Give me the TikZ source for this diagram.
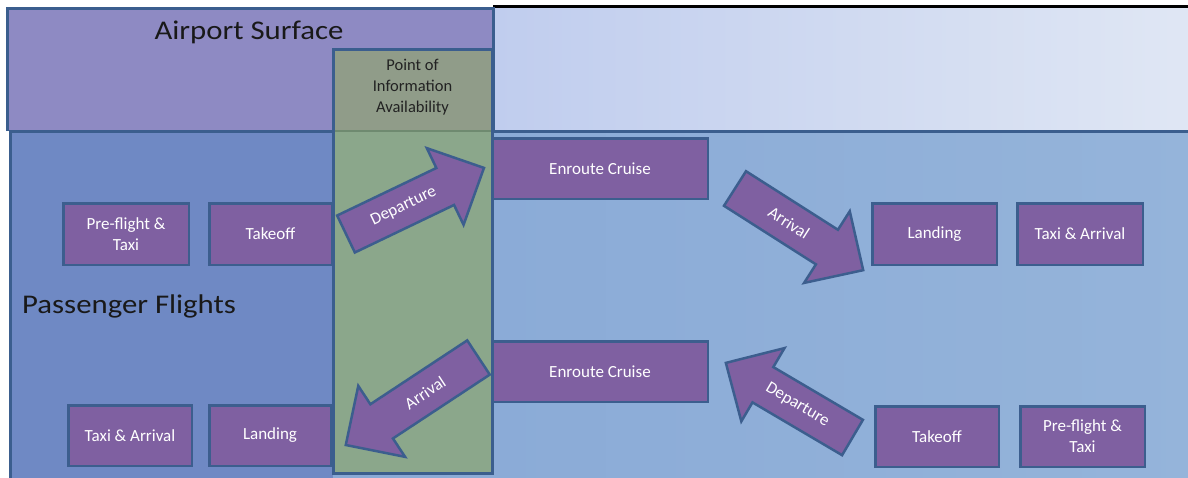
\documentclass[tikz,border=0pt]{standalone}
\usepackage{fontspec}
\usepackage{graphicx}
\setmainfont{Carlito}
\definecolor{airport}{HTML}{8E8AC3}
\definecolor{skyL}{HTML}{C0CDEE}
\definecolor{skyR}{HTML}{E0E7F4}
\definecolor{paxL}{HTML}{6F89C4}
\definecolor{paxRa}{HTML}{84A5D5}
\definecolor{paxRb}{HTML}{95B4DA}
\definecolor{colgreen}{HTML}{8BA78B}
\definecolor{cololive}{HTML}{909C89}
\definecolor{colsep}{HTML}{6F8A70}
\definecolor{regline}{HTML}{3B5E8E}
\definecolor{boxfill}{HTML}{7F60A1}
\definecolor{boxline}{HTML}{3C5E8E}
\definecolor{infotext}{HTML}{222222}
\newcommand{\blockarr}[7]{%
  \begin{scope}[shift={(#2,-#3)}, rotate=#4]
    \draw[blockarrow] (0,-20.5) -- ({#5-43},-20.5) -- ({#5-43},-42.5) -- (#5,0)
      -- ({#5-43},42.5) -- ({#5-43},20.5) -- (0,20.5) -- cycle;
    \node[arrowlabel, rotate=#7] (#1) at (64,0) {#6};
  \end{scope}}
\newcommand{\widetitle}[1]{\scalebox{1.14}[1]{#1}}
\begin{document}
\begin{tikzpicture}[x=1pt,y=1pt,
  regionline/.style={draw=regline, line width=3pt},
  stage/.style={draw=boxline, fill=boxfill, line width=2.5pt, text=white,
    font=\fontsize{17}{21}\selectfont, align=center, inner sep=0pt},
  blockarrow/.style={draw=boxline, fill=boxfill, line width=2.5pt, line join=miter},
  arrowlabel/.style={text=white, font=\fontsize{17}{21}\selectfont, inner sep=0pt},
  bigtitle/.style={text=black!90, font=\fontsize{27}{32}\selectfont, inner sep=0pt},
  infolabel/.style={text=infotext, font=\fontsize{16.5}{21}\selectfont, align=center, inner sep=0pt}]
\useasboundingbox (0,0) rectangle (1188,-477);
\clip (0,0) rectangle (1188,-477);
\fill[white] (0,0) rectangle (1188,-477);
% passenger flights region
\shade[left color=paxRa, right color=paxRb] (10,-131) rectangle (1200,-495);
\fill[paxL] (10,-131) rectangle (333,-495);
% sky region (top right)
\shade[left color=skyL, right color=skyR] (493,-8) rectangle (1200,-131);
\draw[black, line width=3pt] (493,-6.5) -- (1200,-6.5);
% airport surface region
\fill[airport] (7,-8.5) rectangle (493,-131);
\draw[regionline] (7,-131) -- (7,-8.5) -- (493,-8.5) -- (493,-131);
\draw[regionline] (10,-495) -- (10,-131) -- (1200,-131);
% point of information column
\fill[colgreen] (333,-131) rectangle (492,-473);
\fill[cololive] (333,-49.5) rectangle (492,-131);
\draw[colsep, line width=2pt] (333,-131) -- (492,-131);
\draw[regionline] (333,-49.5) rectangle (492,-473);
% titles
\node[bigtitle, anchor=base] (airport) at (249,-39) {\widetitle{Airport Surface}};
\node[bigtitle, anchor=base west] (pax) at (22,-313) {\widetitle{Passenger Flights}};
\node[infolabel] (poi) at (412.5,-87) {Point of\\Information\\Availability};
% stages, outbound row
\node[stage, minimum width=125.5pt, minimum height=61.5pt] (preA) at (126,-234) {Pre-flight \&\\Taxi};
\node[stage, minimum width=122.5pt, minimum height=61.5pt] (takeA) at (270.5,-234) {Takeoff};
\node[stage, minimum width=215.5pt, minimum height=60.5pt] (enrA) at (600,-168.5) {Enroute Cruise};
\node[stage, minimum width=124.5pt, minimum height=61.5pt] (landA) at (934.5,-234) {Landing};
\node[stage, minimum width=125.5pt, minimum height=61.5pt] (taxiA) at (1080,-234) {Taxi \& Arrival};
% stages, return row
\node[stage, minimum width=123.5pt, minimum height=60.5pt] (taxiB) at (130,-435.5) {Taxi \& Arrival};
\node[stage, minimum width=121.5pt, minimum height=60.5pt] (landB) at (270,-435.5) {Landing};
\node[stage, minimum width=215.5pt, minimum height=60.5pt] (enrB) at (600,-371.5) {Enroute Cruise};
\node[stage, minimum width=123.5pt, minimum height=60.5pt] (takeB) at (937,-436.5) {Takeoff};
\node[stage, minimum width=124.5pt, minimum height=60.5pt] (preB) at (1082.5,-436.5) {Pre-flight \&\\Taxi};
% block arrows
\blockarr{depA}{346}{234}{25.6}{153}{Departure}{25.6}
\blockarr{arrA}{735}{188.5}{-32.5}{152}{Arrival}{-32.5}
\blockarr{arrB}{478.5}{357.5}{213.4}{159}{Arrival}{33.4}
\blockarr{depB}{852.5}{437.5}{149.5}{147}{Departure}{-30.5}
\end{tikzpicture}
\end{document}
